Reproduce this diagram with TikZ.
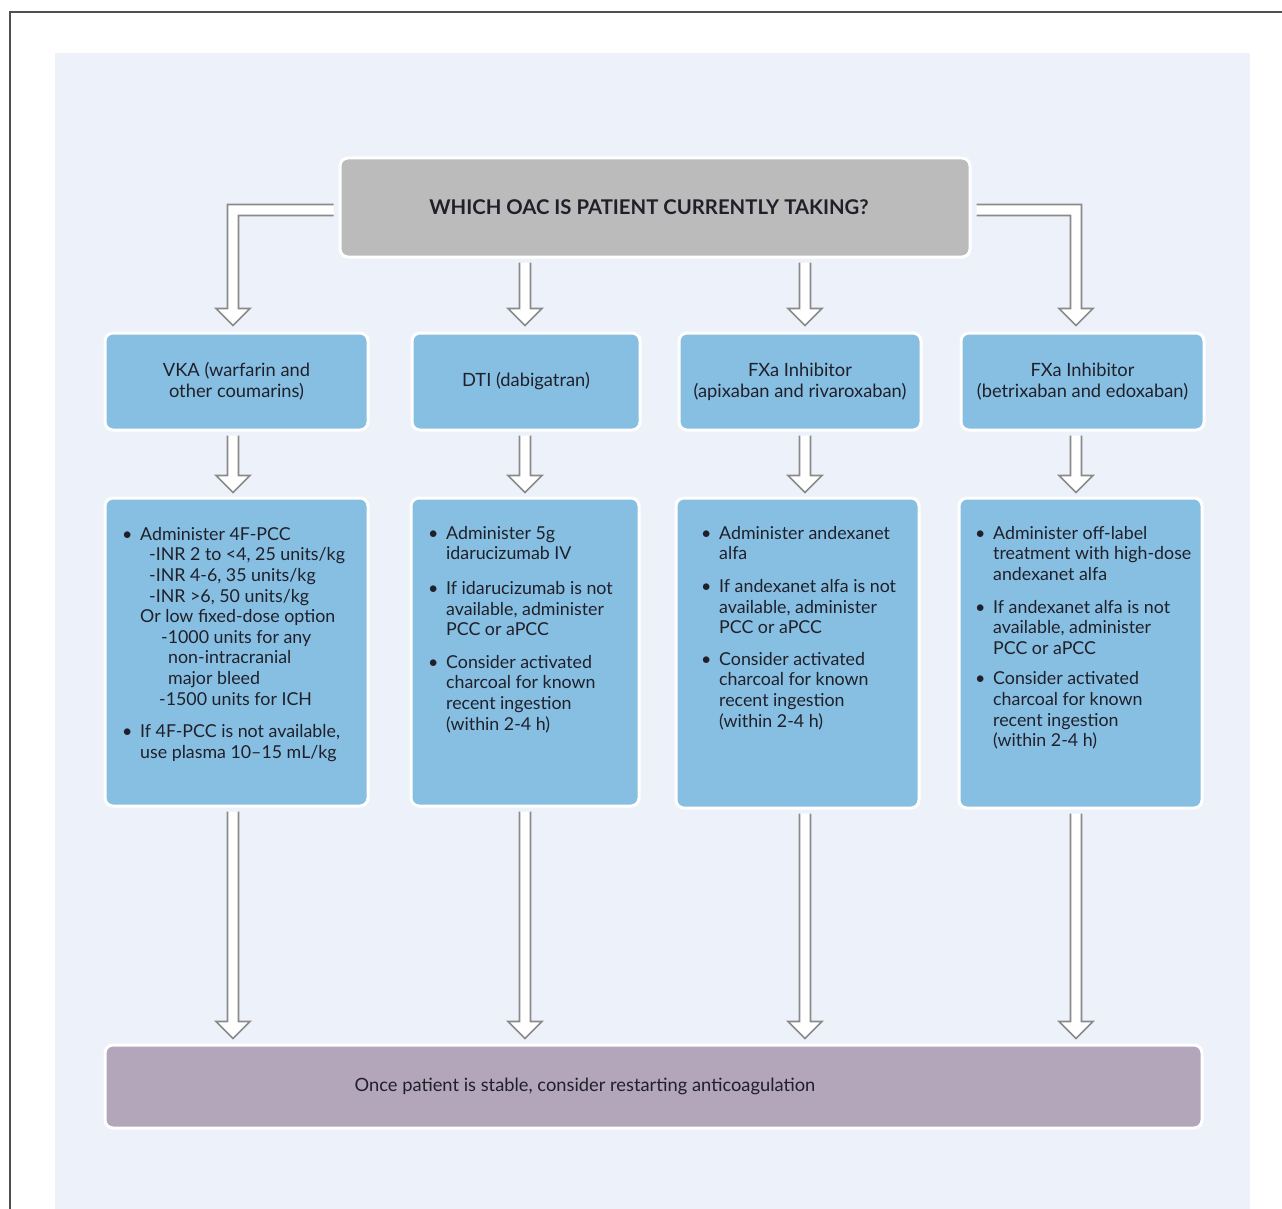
\documentclass[tikz,border=0pt]{standalone}
\usepackage{fontspec}
\setmainfont{Lato}
\usetikzlibrary{calc}
\definecolor{bgc}{HTML}{ECF1FA}
\definecolor{bluebox}{HTML}{87BFE2}
\definecolor{graybox}{HTML}{BBBBBB}
\definecolor{purplebox}{HTML}{B3A5BA}
\definecolor{arrowc}{HTML}{8A8A8A}
\definecolor{framec}{HTML}{505050}
\definecolor{txt}{HTML}{20202A}
\newcommand{\bl}{\makebox[18pt][l]{\textbullet}}
\newcommand{\ind}[1]{\hspace*{#1pt}}
\newcommand{\vblock}[2]{%
  \path[blockarrow] let \p1=(#1), \p2=(#2) in
  (\x1-5.5pt,\y1) -- (\x1-5.5pt,\y2+17pt) -- (\x1-17pt,\y2+17pt) -- (\x1,\y2)
  -- (\x1+17pt,\y2+17pt) -- (\x1+5.5pt,\y2+17pt) -- (\x1+5.5pt,\y1);}
\begin{document}
\begin{tikzpicture}[x=1pt,y=-1pt,
  box/.style={rectangle, rounded corners=8pt, draw=white, line width=3pt, inner sep=0pt, text=txt},
  bluenode/.style={box, fill=bluebox, align=center, font=\fontsize{18.3}{21}\selectfont},
  listtext/.style={anchor=north west, inner sep=0pt, align=left, text=txt, font=\fontsize{17.8}{20.6}\selectfont},
  blockarrow/.style={fill=white, draw=arrowc, line width=1.6pt, line join=miter}]
\useasboundingbox (0,0) rectangle (1282,1209);
\fill[white] (0,0) rectangle (1282,1209);
\fill[bgc] (55,53) rectangle (1250,1209);
\draw[framec, line width=1.2pt] (1282,12) -- (10,12) -- (10,1209);

% column axes
\coordinate (c1) at (233,0);
\coordinate (c2) at (525,0);
\coordinate (c3) at (805,0);
\coordinate (c4) at (1076,0);

% top question
\node[box, fill=graybox, minimum width=630pt, minimum height=99pt,
  font=\fontsize{20.3}{24}\selectfont\bfseries] (top) at (655,207.5)
  {\hspace*{-12pt}\raisebox{-2pt}{WHICH OAC IS PATIENT CURRENTLY TAKING?}};

% drug classes
\node[bluenode, minimum width=263pt, minimum height=97pt] (v1) at (236.5,381.5) {VKA (warfarin and\\other coumarins)};
\node[bluenode, minimum width=228pt, minimum height=97pt] (v2) at (526,381.5) {DTI (dabigatran)};
\node[bluenode, minimum width=242pt, minimum height=97pt] (v3) at (800,381.5) {FXa Inhibitor\\(apixaban and rivaroxaban)};
\node[bluenode, minimum width=243pt, minimum height=97pt] (v4) at (1082.5,381.5) {FXa Inhibitor\\(betrixaban and edoxaban)};

% treatment boxes
\node[box, fill=bluebox, minimum width=263pt, minimum height=308pt] (t1) at (236.5,652) {};
\node[box, fill=bluebox, minimum width=228pt, minimum height=308pt] (t2) at (525,652) {};
\node[box, fill=bluebox, minimum width=243pt, minimum height=310pt] (t3) at (797.5,653) {};
\node[box, fill=bluebox, minimum width=243pt, minimum height=310pt] (t4) at (1080.5,653) {};

\node[listtext] (l1) at (122,527) {%
\bl Administer 4F-PCC\\
\ind{27}-INR 2 to <4, 25 units/kg\\
\ind{27}-INR 4-6, 35 units/kg\\
\ind{27}-INR >6, 50 units/kg\\
\ind{18}Or low fixed-dose option\\
\ind{39}-1000 units for any\\
\ind{46}non-intracranial\\
\ind{46}major bleed\\
\ind{37}-1500 units for ICH\\[12pt]
\bl If 4F-PCC is not available,\\
\ind{18}use plasma 10–15 mL/kg};

\node[listtext] (l2) at (428,526) {%
\bl Administer 5g\\
\ind{18}idarucizumab IV\\[14pt]
\bl If idarucizumab is not\\
\ind{18}available, administer\\
\ind{18}PCC or aPCC\\[12pt]
\bl Consider activated\\
\ind{18}charcoal for known\\
\ind{18}recent ingestion\\
\ind{18}(within 2-4 h)};

\node[listtext] (l3) at (701,526) {%
\bl Administer andexanet\\
\ind{18}alfa\\[12pt]
\bl If andexanet alfa is not\\
\ind{18}available, administer\\
\ind{18}PCC or aPCC\\[11pt]
\bl Consider activated\\
\ind{18}charcoal for known\\
\ind{18}recent ingestion\\
\ind{18}(within 2-4 h)};

\node[listtext] (l4) at (975,526) {%
\bl Administer off-label\\
\ind{18}treatment with high-dose\\
\ind{18}andexanet alfa\\[12pt]
\bl If andexanet alfa is not\\
\ind{18}available, administer\\
\ind{18}PCC or aPCC\\[10pt]
\bl Consider activated\\
\ind{18}charcoal for known\\
\ind{18}recent ingestion\\
\ind{18}(within 2-4 h)};

% final box
\node[box, fill=purplebox, minimum width=1097pt, minimum height=83pt] (fin) at (653.5,1086.5) {};
\node[inner sep=0pt, text=txt, font=\fontsize{18.3}{22}\selectfont] (fintext) at (585,1086) {Once patient is stable, consider restarting anticoagulation};

% elbow arrows from the question box
\path[blockarrow] let \p1=(top.west), \p2=($(v1.north -| c1)+(0,-6)$) in
  (\x1-5pt,\y1+3pt) -- (\x2-5.5pt,\y1+3pt) -- (\x2-5.5pt,\y2+17pt) -- (\x2-17pt,\y2+17pt) -- (\x2,\y2)
  -- (\x2+17pt,\y2+17pt) -- (\x2+5.5pt,\y2+17pt) -- (\x2+5.5pt,\y1-8pt) -- (\x1-5pt,\y1-8pt);
\path[blockarrow] let \p1=(top.east), \p2=($(v4.north -| c4)+(0,-6)$) in
  (\x1+5pt,\y1+3pt) -- (\x2+5.5pt,\y1+3pt) -- (\x2+5.5pt,\y2+17pt) -- (\x2+17pt,\y2+17pt) -- (\x2,\y2)
  -- (\x2-17pt,\y2+17pt) -- (\x2-5.5pt,\y2+17pt) -- (\x2-5.5pt,\y1-8pt) -- (\x1+5pt,\y1-8pt);

% straight arrows from the question box
\coordinate (s2) at ($(top.south -| c2)+(0,4)$);
\coordinate (e2) at ($(v2.north -| c2)+(0,-6)$);
\vblock{s2}{e2}
\coordinate (s3) at ($(top.south -| c3)+(0,4)$);
\coordinate (e3) at ($(v3.north -| c3)+(0,-6)$);
\vblock{s3}{e3}

% class -> treatment, treatment -> final
\foreach \i in {1,2,3,4}{
  \coordinate (m\i s) at ($(v\i.south -| c\i)+(0,4)$);
  \coordinate (m\i e) at ($(t\i.north -| c\i)+(0,-4)$);
  \vblock{m\i s}{m\i e}
  \coordinate (b\i s) at ($(t\i.south -| c\i)+(0,4)$);
  \coordinate (b\i e) at ($(fin.north -| c\i)+(0,-5)$);
  \vblock{b\i s}{b\i e}
}
\end{tikzpicture}
\end{document}
